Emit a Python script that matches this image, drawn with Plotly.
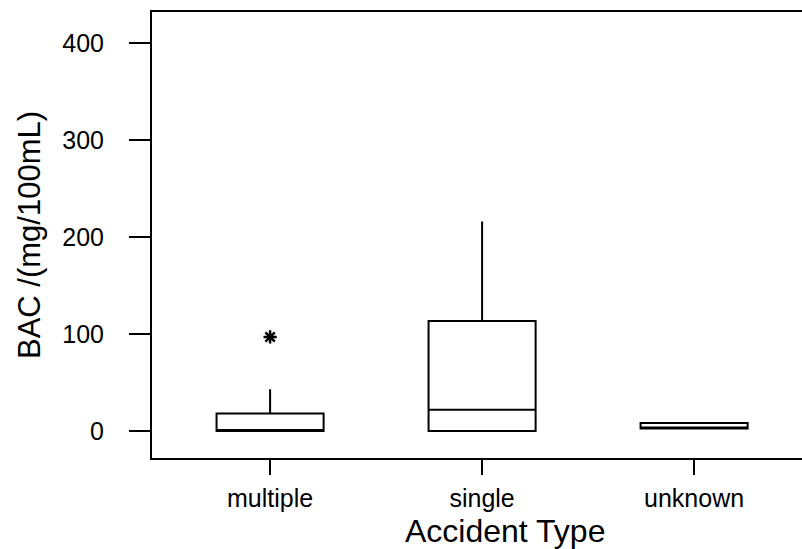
import plotly.graph_objects as go

categories = ["multiple", "single", "unknown"]
q1 = [0, 0, 2.5]
median = [0.5, 22, 2.5]
q3 = [18, 113.5, 8.2]
lower_fence = [0, 0, 2.5]
upper_fence = [43, 216, 8.2]

outlier_cat = ["multiple"]
outlier_val = [97]

y_ticks = [0, 100, 200, 300, 400]

fig = go.Figure()
fig.add_trace(go.Box(
    x=categories, q1=q1, median=median, q3=q3,
    lowerfence=lower_fence, upperfence=upper_fence,
    fillcolor="rgba(0,0,0,0)",
    line=dict(color="black", width=2),
    whiskerwidth=0, width=0.505, boxpoints=False,
    showlegend=False,
))
fig.add_trace(go.Scatter(
    x=outlier_cat, y=outlier_val, mode="markers",
    marker=dict(symbol="asterisk-open", size=11, color="black",
                line=dict(color="black", width=2.5)),
    showlegend=False,
))

font = "Liberation Sans, Arial, Helvetica, sans-serif"
fig.update_layout(
    width=802, height=549,
    margin=dict(l=152, r=0, t=12, b=91),
    paper_bgcolor="white", plot_bgcolor="white",
    font=dict(family=font, color="black"),
    xaxis=dict(
        categoryorder="array", categoryarray=categories,
        range=[-0.557, 2.509],
        showline=True, linecolor="black", linewidth=2, mirror=True,
        ticks="outside", ticklen=15, tickwidth=2, tickcolor="black",
        tickfont=dict(size=25), ticklabelstandoff=2,
        showgrid=False, zeroline=False,
    ),
    yaxis=dict(
        range=[-27.8, 432],
        tickvals=y_ticks,
        showline=True, linecolor="black", linewidth=2,
        ticks="outside", ticklen=21, tickwidth=2, tickcolor="black",
        tickfont=dict(size=25), ticklabelstandoff=20,
        showgrid=False, zeroline=False,
        title=dict(text="BAC /(mg/100mL)", font=dict(size=31), standoff=12),
    ),
    annotations=[dict(
        text="Accident Type", xref="paper", yref="paper",
        x=(505 - 152) / 650, y=-(531 - 458) / 446,
        xanchor="center", yanchor="middle", showarrow=False,
        font=dict(size=32),
    )],
)
fig.write_html("out.html")
